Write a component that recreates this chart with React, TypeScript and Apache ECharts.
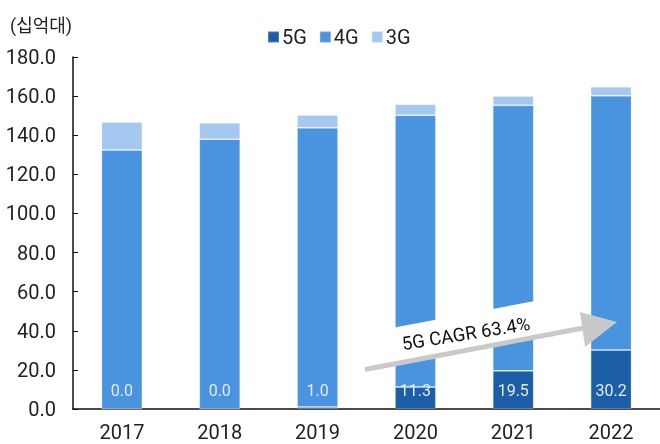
import React, { useEffect, useRef } from "react";
import * as echarts from "echarts";

const years = ["2017", "2018", "2019", "2020", "2021", "2022"];
const fiveG = [0.0, 0.0, 1.0, 11.3, 19.5, 30.2];
const fourG = [132.4, 138.0, 142.8, 138.9, 135.8, 130.0];
const threeG = [14.3, 8.4, 6.5, 5.7, 4.7, 4.6];
const unitLabel = "(십억대)";
const cagrLabel = "5G CAGR 63.4%";

const FONT = "Roboto, 'Noto Sans CJK KR', sans-serif";

export default function App() {
  const ref = useRef<HTMLDivElement>(null);
  useEffect(() => {
    if (!ref.current) return;
    const chart = echarts.init(ref.current, undefined, { renderer: "svg" });
    const border = { borderColor: "rgba(255,255,255,0.22)", borderWidth: 1 };
    chart.setOption({
      animation: false,
      textStyle: { fontFamily: FONT },
      title: {
        text: unitLabel,
        left: 5,
        top: 11,
        textStyle: { fontSize: 18, fontWeight: "normal", color: "#222", fontFamily: FONT },
      },
      legend: {
        left: 262,
        top: 22,
        itemWidth: 11,
        itemHeight: 11,
        itemGap: 12,
        icon: "rect",
        textStyle: { fontSize: 20, color: "#222", padding: [0, 0, 0, -2] },
        data: ["5G", "4G", "3G"],
      },
      grid: { left: 73, right: -2, top: 57, bottom: 35, containLabel: false },
      xAxis: {
        type: "category",
        data: years,
        axisLine: { lineStyle: { color: "#111", width: 1.5 } },
        axisTick: { inside: true, length: 5, lineStyle: { color: "#111" } },
        axisLabel: { fontSize: 20, color: "#222", margin: 13 },
      },
      yAxis: {
        type: "value",
        min: 0,
        max: 180,
        interval: 20,
        axisLine: { show: true, lineStyle: { color: "#111", width: 1.5 } },
        axisTick: { show: true, inside: true, length: 5, lineStyle: { color: "#111" } },
        splitLine: { show: false },
        axisLabel: {
          fontSize: 20,
          color: "#222",
          margin: 17,
          formatter: (v: number) => v.toFixed(1),
        },
      },
      series: [
        {
          name: "5G",
          type: "bar",
          stack: "total",
          barWidth: 41,
          data: fiveG,
          itemStyle: { color: "#1D5EA9", ...border },
          label: {
            show: true,
            position: "insideBottom",
            distance: 11,
            fontSize: 16,
            color: "#e3eaf6",
            formatter: (p: any) => Number(p.value).toFixed(1),
          },
          z: 3,
        },
        {
          name: "4G",
          type: "bar",
          stack: "total",
          barWidth: 41,
          data: fourG,
          itemStyle: { color: "#4A93DF", ...border },
          z: 2,
        },
        {
          name: "3G",
          type: "bar",
          stack: "total",
          barWidth: 41,
          data: threeG,
          itemStyle: { color: "#A4C8F0", ...border },
          z: 2,
        },
      ],
      graphic: [
        {
          type: "polygon",
          z: 100,
          shape: { points: [[360, 334], [572, 294], [572, 332], [360, 372]] },
          style: { fill: "#ffffff" },
        },
        {
          type: "line",
          z: 101,
          shape: { x1: 365, y1: 369.5, x2: 586, y2: 327.5 },
          style: { stroke: "#c9c9c9", lineWidth: 5 },
        },
        {
          type: "polygon",
          z: 101,
          shape: { points: [[580, 312], [617, 322], [585, 347]] },
          style: { fill: "#c9c9c9" },
        },
        {
          type: "text",
          z: 102,
          x: 466,
          y: 334,
          rotation: 0.16,
          style: {
            text: cagrLabel,
            fontSize: 18.5,
            fontFamily: FONT,
            fill: "#111",
            align: "center",
            verticalAlign: "middle",
          },
        },
      ],
    });
    return () => chart.dispose();
  }, []);
  return (
    <div
      ref={ref}
      style={{ position: "fixed", left: 0, top: 0, width: 660, height: 444 }}
    />
  );
}
